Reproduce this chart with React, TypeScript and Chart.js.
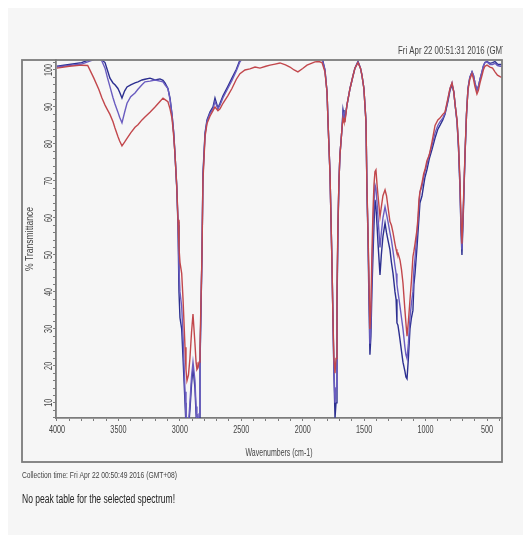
import { useEffect, useRef } from "react";
import { Chart, registerables } from "chart.js";

Chart.register(...registerables);

// Wavenumber grid (cm-1), shared by the three spectra
const wavenumbers = [
  4000, 3900, 3800, 3750, 3700, 3660, 3634, 3609, 3590, 3569,
  3544, 3528, 3504, 3490, 3471, 3450, 3430, 3400, 3365, 3341,
  3308, 3284, 3243, 3202, 3162, 3137, 3121, 3097, 3080, 3064,
  3050, 3040, 3025, 3015, 3007, 2999, 2985, 2974, 2958, 2950,
  2942, 2930, 2918, 2905, 2893, 2877, 2868, 2861, 2852, 2844,
  2836, 2820, 2812, 2795, 2779, 2755, 2730, 2714, 2690, 2673,
  2649, 2610, 2576, 2540, 2511, 2470, 2430, 2388, 2348, 2300,
  2266, 2225, 2185, 2140, 2104, 2070, 2039, 2000, 1965, 1930,
  1900, 1870, 1843, 1819, 1802, 1794, 1778, 1762, 1754, 1746,
  1737, 1729, 1721, 1713, 1705, 1697, 1680, 1672, 1664, 1656,
  1640, 1615, 1590, 1575, 1550, 1530, 1518, 1502, 1485, 1477,
  1469, 1461, 1453, 1445, 1437, 1428, 1420, 1412, 1404, 1395,
  1387, 1371, 1360, 1347, 1330, 1318, 1306, 1290, 1278, 1265,
  1249, 1240, 1233, 1225, 1216, 1208, 1196, 1184, 1168, 1160,
  1151, 1140, 1127, 1115, 1103, 1095, 1086, 1070, 1062, 1054,
  1046, 1029, 1015, 1005, 989, 970, 948, 923, 900, 883,
  860, 842, 818, 801, 785, 770, 761, 744, 732, 720,
  712, 704, 692, 679, 667, 655, 640, 622, 610, 598,
  582, 570, 557, 541, 530, 517, 500, 476, 455, 435,
  415, 394, 380,
];

// % transmittance of the three collected spectra
const spectrumBlue = [
  101.0, 101.5, 102.0, 102.6, 103.2, 103.5, 102.7, 102.0, 100.0, 97.8,
  96.5, 96.0, 95.0, 94.0, 92.4, 94.3, 95.4, 96.0, 96.5, 96.8,
  97.3, 97.5, 97.8, 97.3, 97.6, 97.2, 96.5, 95.0, 92.4, 88.0,
  83.0, 77.5, 68.0, 58.0, 40.0, 33.0, 30.0, 22.0, 10.0, 4.0,
  2.0, 3.0, 8.0, 15.0, 19.5, 14.0, 7.0, 3.0, 2.0, 6.0,
  20.0, 50.0, 72.0, 83.0, 86.5, 88.6, 90.0, 92.4, 89.7, 91.0,
  93.0, 95.5, 97.8, 100.2, 102.7, 104.5, 105.0, 105.0, 105.0, 105.0,
  105.0, 105.2, 105.5, 105.0, 104.5, 104.0, 103.6, 104.2, 104.8, 105.2,
  105.4, 105.0, 103.5, 100.0, 94.0, 86.0, 72.0, 48.0, 33.0, 18.0,
  6.0, 10.0, 36.0, 57.0, 70.0, 77.0, 84.3, 89.2, 87.5, 87.0,
  90.5, 95.0, 98.5, 100.5, 102.3, 100.5, 98.6, 95.0, 86.0, 67.0,
  55.0, 38.0, 23.0, 28.0, 40.0, 50.0, 58.0, 64.9, 63.0, 58.0,
  53.0, 44.6, 50.0, 55.0, 58.6, 56.0, 54.0, 51.4, 48.0, 45.0,
  40.0, 38.0, 31.6, 31.0, 29.0, 27.0, 24.0, 21.0, 18.5, 17.0,
  16.5, 22.0, 30.0, 33.0, 35.0, 42.0, 45.0, 52.0, 56.0, 60.0,
  64.0, 66.0, 69.0, 71.0, 73.0, 76.0, 78.5, 81.6, 84.0, 85.0,
  86.5, 88.0, 91.5, 94.5, 96.0, 94.0, 91.0, 86.0, 79.0, 68.0,
  57.0, 50.0, 62.0, 77.0, 88.0, 95.0, 98.0, 99.5, 98.5, 96.5,
  94.5, 95.5, 97.5, 99.5, 101.0, 102.0, 102.3, 101.8, 102.0, 102.3,
  101.6, 101.5, 101.5,
];

const spectrumViolet = [
  100.8, 101.2, 101.6, 102.2, 102.8, 103.2, 102.4, 100.5, 98.0, 95.5,
  92.5, 90.8, 88.6, 87.2, 85.7, 88.5, 91.0, 92.8, 93.8, 94.8,
  96.0, 96.8, 97.0, 97.3, 97.0, 96.8, 96.0, 95.0, 92.0, 88.0,
  83.0, 77.5, 68.5, 59.0, 46.0, 40.0, 36.0, 28.0, 13.0, 6.0,
  3.0, 4.0, 10.0, 17.0, 21.0, 16.0, 9.0, 4.0, 3.0, 7.0,
  21.0, 50.0, 71.0, 82.5, 86.0, 88.2, 89.5, 91.5, 89.5, 90.5,
  92.5, 95.0, 97.2, 99.8, 102.2, 104.0, 104.5, 104.8, 104.8, 104.8,
  104.8, 105.0, 105.2, 104.8, 104.2, 103.6, 103.2, 103.8, 104.5, 104.9,
  105.0, 104.6, 103.0, 100.0, 94.0, 86.0, 72.0, 48.0, 33.0, 19.0,
  10.0, 14.0, 38.0, 58.0, 70.0, 77.0, 84.3, 88.5, 87.0, 86.5,
  90.5, 95.0, 98.5, 100.5, 102.2, 100.5, 98.6, 95.0, 86.0, 67.5,
  56.0, 42.0, 26.0, 32.0, 45.0, 56.0, 64.0, 69.0, 68.0, 64.0,
  60.0, 52.0, 56.0, 60.0, 63.0, 61.0, 59.0, 56.0, 54.0, 51.0,
  47.0, 45.0, 42.0, 40.0, 38.0, 36.0, 33.0, 30.0, 25.0, 23.0,
  22.0, 26.0, 33.0, 37.0, 40.0, 46.0, 49.0, 56.0, 59.0, 63.0,
  67.0, 68.5, 71.0, 72.5, 74.5, 77.0, 79.5, 83.0, 85.0, 86.0,
  87.0, 88.3, 92.0, 95.0, 96.5, 94.0, 91.0, 86.0, 79.0, 68.5,
  58.0, 51.5, 63.0, 77.0, 88.0, 95.0, 98.0, 99.5, 98.5, 96.5,
  94.5, 95.5, 97.5, 99.5, 101.0, 102.0, 102.2, 101.5, 101.5, 101.8,
  101.2, 101.0, 101.0,
];

const spectrumRed = [
  100.5, 101.0, 101.3, 101.2, 97.8, 94.8, 92.4, 90.5, 89.3, 88.0,
  86.0, 84.3, 82.0, 80.8, 79.5, 80.5, 81.5, 83.0, 84.5, 85.2,
  86.5, 87.3, 88.6, 90.0, 91.5, 92.4, 92.0, 91.4, 89.5, 87.0,
  82.0, 77.5, 68.5, 59.5, 52.0, 48.0, 45.0, 38.0, 25.0, 19.0,
  16.0, 17.5, 22.0, 29.0, 34.0, 26.0, 21.0, 19.0, 19.5, 21.0,
  25.0, 50.0, 70.0, 82.0, 85.5, 87.5, 89.0, 90.0, 89.0, 89.5,
  91.0, 93.0, 95.0, 97.5, 99.0, 100.0, 100.3, 100.8, 100.5, 101.0,
  101.3, 101.6, 101.9, 101.4, 100.8, 100.0, 99.5, 100.4, 101.3, 101.8,
  102.2, 102.3, 102.0, 99.5, 94.0, 86.0, 72.0, 48.0, 33.0, 22.0,
  18.0, 22.0, 41.0, 59.0, 70.0, 77.0, 84.3, 87.0, 86.0, 86.0,
  90.5, 95.0, 98.5, 100.5, 102.0, 100.5, 98.6, 95.0, 86.0, 68.0,
  57.0, 44.0, 30.0, 36.0, 50.0, 62.0, 69.0, 72.5, 73.0, 69.0,
  66.0, 60.3, 63.0, 66.0, 67.6, 66.0, 63.0, 59.0, 58.0, 56.0,
  53.0, 51.5, 50.5, 50.5, 49.5, 48.6, 46.0, 42.4, 35.0, 31.6,
  28.0, 32.0, 37.8, 43.0, 49.5, 51.0, 53.0, 56.8, 60.0, 64.9,
  67.0, 69.5, 72.0, 73.0, 75.5, 77.0, 80.5, 85.0, 86.5, 87.0,
  88.0, 88.6, 92.4, 95.0, 96.5, 94.0, 91.0, 86.5, 80.0, 70.0,
  60.0, 53.0, 64.0, 77.5, 88.0, 94.5, 97.5, 99.0, 97.5, 95.5,
  93.5, 94.5, 96.5, 98.5, 100.0, 101.0, 101.3, 100.8, 100.5, 99.5,
  98.6, 98.2, 98.0,
];

const xTickLabels = [4000, 3500, 3000, 2500, 2000, 1500, 1000, 500];
const yTickLabels = [10, 20, 30, 40, 50, 60, 70, 80, 90, 100];

const headerText = "Fri Apr 22 00:51:31 2016 (GMT+08)";
const xTitle = "Wavenumbers (cm-1)";
const yTitle = "% Transmittance";
const collectionText = "Collection time: Fri Apr 22 00:50:49 2016 (GMT+08)";
const peakNote = "No peak table for the selected spectrum!";

const FONT = "'Liberation Sans', Arial, sans-serif";
const AXIS_GREY = "#7c7c7c";
const TEXT_GREY = "#444444";
const NARROW_X = 0.66; // horizontal squeeze that gives the condensed instrument font

const toPoints = (values: number[]) =>
  wavenumbers.map((w, i) => ({ x: w, y: values[i] }));

// Condensed text: drawn with the regular face, squeezed horizontally
function narrowText(
  ctx: CanvasRenderingContext2D,
  text: string,
  x: number,
  y: number,
  size: number,
  squeeze: number,
  align: CanvasTextAlign,
  rotate = 0
) {
  ctx.save();
  ctx.translate(x, y);
  if (rotate) ctx.rotate(rotate);
  ctx.scale(squeeze, 1);
  ctx.font = `${size}px ${FONT}`;
  ctx.textAlign = align;
  ctx.textBaseline = "middle";
  ctx.fillText(text, 0, 0);
  ctx.restore();
}

// Squeeze factor that makes `text` span `width` pixels at `size`
function fitSqueeze(ctx: CanvasRenderingContext2D, text: string, size: number, width: number) {
  ctx.save();
  ctx.font = `${size}px ${FONT}`;
  const w = ctx.measureText(text).width;
  ctx.restore();
  return width / w;
}

// Paints the panel background, the outer frame, tick labels and all free text
const pagePlugin = {
  id: "omnicPage",
  beforeDraw(chart: any) {
    const { ctx, width, height } = chart;
    ctx.save();
    ctx.fillStyle = "#ffffff";
    ctx.fillRect(0, 0, width, height);
    ctx.fillStyle = "#f6f6f6";
    ctx.fillRect(8, 8, width - 8, height - 11);
    ctx.restore();
  },
  afterDraw(chart: any) {
    const { ctx, chartArea } = chart;
    const xScale = chart.scales.x;
    const yScale = chart.scales.y;
    const frameLeft = 22;
    const frameBottom = 462;
    ctx.save();

    ctx.strokeStyle = AXIS_GREY;
    ctx.lineWidth = 1.8;
    ctx.strokeRect(frameLeft, chartArea.top, chartArea.right - frameLeft, frameBottom - chartArea.top);

    ctx.fillStyle = TEXT_GREY;

    // tick labels
    for (const v of xTickLabels) {
      narrowText(ctx, String(v), xScale.getPixelForValue(v), chartArea.bottom + 12, 11, NARROW_X, "center");
    }
    for (const v of yTickLabels) {
      narrowText(ctx, String(v), chartArea.left - 7, yScale.getPixelForValue(v), 11, NARROW_X, "center", -Math.PI / 2);
    }

    // axis titles
    narrowText(ctx, yTitle, 30, (chartArea.top + chartArea.bottom) / 2, 11, 0.78, "center", -Math.PI / 2);
    narrowText(ctx, xTitle, (chartArea.left + chartArea.right) / 2, 453, 10, fitSqueeze(ctx, xTitle, 10, 67), "center");

    // time stamp, cut off at the frame edge
    ctx.save();
    ctx.beginPath();
    ctx.rect(0, 0, chartArea.right + 1, chartArea.top);
    ctx.clip();
    narrowText(ctx, headerText, 398, 51, 10, fitSqueeze(ctx, "Fri Apr 22 00:51:31 2016 (GM", 10, 104), "left");
    ctx.restore();

    narrowText(ctx, collectionText, 22, 476, 9, fitSqueeze(ctx, collectionText, 9, 155), "left");
    ctx.fillStyle = "#222222";
    narrowText(ctx, peakNote, 22, 500, 12, fitSqueeze(ctx, peakNote, 12, 153), "left");
    ctx.restore();
  },
};

export default function App() {
  const canvasRef = useRef<HTMLCanvasElement | null>(null);

  useEffect(() => {
    const canvas = canvasRef.current;
    if (!canvas) return;
    const chart = new Chart(canvas, {
      type: "line",
      data: {
        datasets: [
          {
            label: "Sample C",
            data: toPoints(spectrumRed),
            borderColor: "#c2474c",
            borderWidth: 1.4,
            pointRadius: 0,
            tension: 0,
          },
          {
            label: "Sample B",
            data: toPoints(spectrumViolet),
            borderColor: "#6a5cc0",
            borderWidth: 1.4,
            pointRadius: 0,
            tension: 0,
          },
          {
            label: "Sample A",
            data: toPoints(spectrumBlue),
            borderColor: "#2c2f90",
            borderWidth: 1.4,
            pointRadius: 0,
            tension: 0,
          },
        ],
      },
      options: {
        responsive: false,
        animation: false,
        devicePixelRatio: 1,
        events: [],
        layout: { padding: { left: 46, right: 21, top: 60, bottom: 90 } },
        plugins: { legend: { display: false }, tooltip: { enabled: false } },
        scales: {
          x: {
            type: "linear",
            reverse: true,
            min: 378,
            max: 4008,
            afterFit: (s: any) => {
              s.height = 30;
            },
            afterBuildTicks: (s: any) => {
              const ticks = [];
              for (let v = 400; v <= 4000; v += 100) ticks.push({ value: v });
              s.ticks = ticks;
            },
            ticks: { display: false },
            grid: { drawOnChartArea: false, drawTicks: true, tickLength: 3, color: AXIS_GREY },
            border: { display: true, color: AXIS_GREY, width: 1.8 },
          },
          y: {
            type: "linear",
            min: 5.9,
            max: 102.7,
            afterFit: (s: any) => {
              s.width = 10;
            },
            afterBuildTicks: (s: any) => {
              const ticks = [];
              for (let v = 6; v <= 102; v += 2) ticks.push({ value: v });
              s.ticks = ticks;
            },
            ticks: { display: false },
            grid: { drawOnChartArea: false, drawTicks: true, tickLength: 3, color: AXIS_GREY },
            border: { display: true, color: AXIS_GREY, width: 1.8 },
          },
        },
      },
      plugins: [pagePlugin],
    });
    return () => chart.destroy();
  }, []);

  return (
    <div style={{ position: "fixed", left: 0, top: 0, width: 523, height: 538 }}>
      <canvas ref={canvasRef} width={523} height={538} style={{ display: "block" }} />
    </div>
  );
}
